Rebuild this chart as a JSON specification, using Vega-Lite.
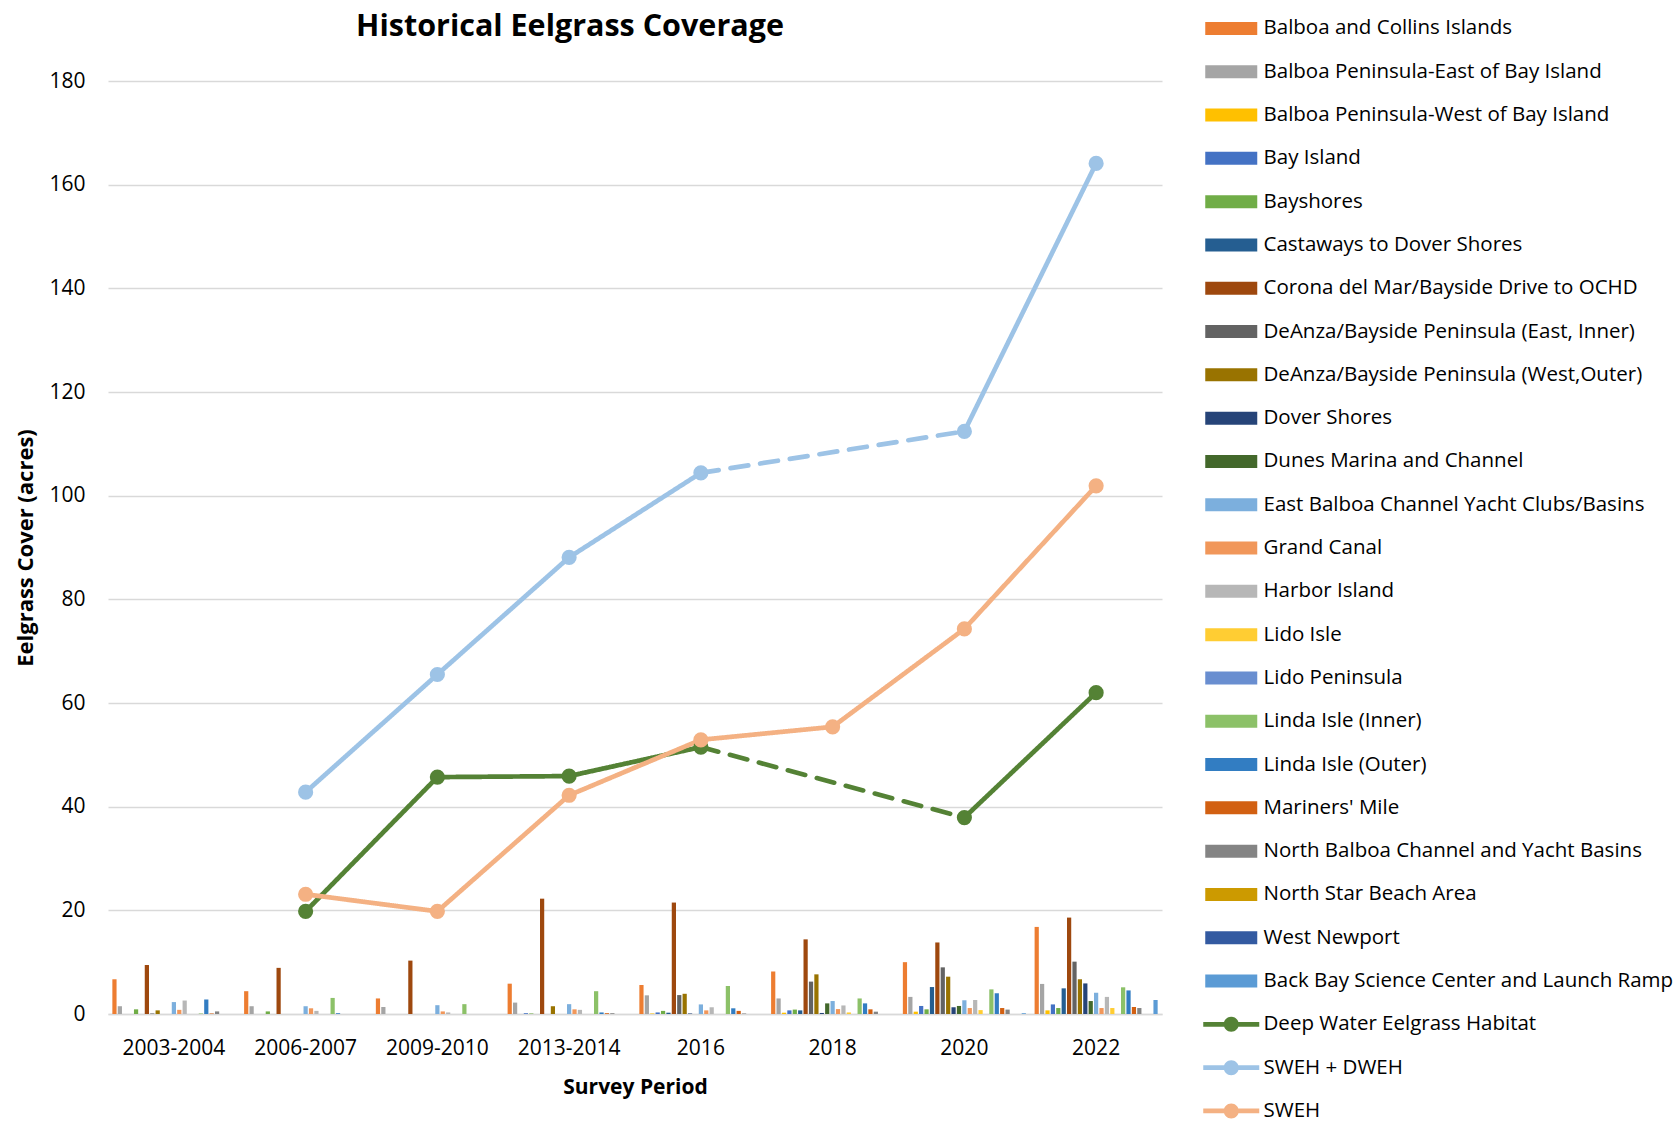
{
  "$schema": "https://vega.github.io/schema/vega-lite/v6.json",
  "width": 1054,
  "height": 933,
  "autosize": {"type": "none"},
  "padding": {"left": 108, "top": 81, "right": 515, "bottom": 108},
  "background": "white",
  "title": {
    "text": "Historical Eelgrass Coverage",
    "font": "Open Sans",
    "fontWeight": "bold",
    "fontSize": 30.5,
    "color": "#000000",
    "anchor": "middle",
    "frame": "group",
    "baseline": "alphabetic",
    "dx": -65,
    "offset": 0,
    "dy": 48
  },
  "datasets": {
    "bars": [
      {"period": "2003-2004", "series": "Balboa and Collins Islands", "value": 6.7},
      {"period": "2003-2004", "series": "Balboa Peninsula-East of Bay Island", "value": 1.5},
      {"period": "2003-2004", "series": "Bayshores", "value": 0.9},
      {"period": "2003-2004", "series": "Corona del Mar/Bayside Drive to OCHD", "value": 9.45},
      {"period": "2003-2004", "series": "DeAnza/Bayside Peninsula (East, Inner)", "value": 0.1},
      {"period": "2003-2004", "series": "DeAnza/Bayside Peninsula (West,Outer)", "value": 0.7},
      {"period": "2003-2004", "series": "East Balboa Channel Yacht Clubs/Basins", "value": 2.3},
      {"period": "2003-2004", "series": "Grand Canal", "value": 0.8},
      {"period": "2003-2004", "series": "Harbor Island", "value": 2.6},
      {"period": "2003-2004", "series": "Linda Isle (Inner)", "value": 0.1},
      {"period": "2003-2004", "series": "Linda Isle (Outer)", "value": 2.8},
      {"period": "2003-2004", "series": "Mariners' Mile", "value": 0.1},
      {"period": "2003-2004", "series": "North Balboa Channel and Yacht Basins", "value": 0.5},

      {"period": "2006-2007", "series": "Balboa and Collins Islands", "value": 4.4},
      {"period": "2006-2007", "series": "Balboa Peninsula-East of Bay Island", "value": 1.5},
      {"period": "2006-2007", "series": "Bayshores", "value": 0.5},
      {"period": "2006-2007", "series": "Corona del Mar/Bayside Drive to OCHD", "value": 8.9},
      {"period": "2006-2007", "series": "East Balboa Channel Yacht Clubs/Basins", "value": 1.5},
      {"period": "2006-2007", "series": "Grand Canal", "value": 1.1},
      {"period": "2006-2007", "series": "Harbor Island", "value": 0.6},
      {"period": "2006-2007", "series": "Linda Isle (Inner)", "value": 3.1},
      {"period": "2006-2007", "series": "Linda Isle (Outer)", "value": 0.15},

      {"period": "2009-2010", "series": "Balboa and Collins Islands", "value": 3.0},
      {"period": "2009-2010", "series": "Balboa Peninsula-East of Bay Island", "value": 1.35},
      {"period": "2009-2010", "series": "Corona del Mar/Bayside Drive to OCHD", "value": 10.3},
      {"period": "2009-2010", "series": "East Balboa Channel Yacht Clubs/Basins", "value": 1.7},
      {"period": "2009-2010", "series": "Grand Canal", "value": 0.5},
      {"period": "2009-2010", "series": "Harbor Island", "value": 0.3},
      {"period": "2009-2010", "series": "Linda Isle (Inner)", "value": 1.9},

      {"period": "2013-2014", "series": "Balboa and Collins Islands", "value": 5.85},
      {"period": "2013-2014", "series": "Balboa Peninsula-East of Bay Island", "value": 2.2},
      {"period": "2013-2014", "series": "Bay Island", "value": 0.15},
      {"period": "2013-2014", "series": "Bayshores", "value": 0.1},
      {"period": "2013-2014", "series": "Corona del Mar/Bayside Drive to OCHD", "value": 22.25},
      {"period": "2013-2014", "series": "DeAnza/Bayside Peninsula (West,Outer)", "value": 1.5},
      {"period": "2013-2014", "series": "East Balboa Channel Yacht Clubs/Basins", "value": 1.9},
      {"period": "2013-2014", "series": "Grand Canal", "value": 0.9},
      {"period": "2013-2014", "series": "Harbor Island", "value": 0.8},
      {"period": "2013-2014", "series": "Linda Isle (Inner)", "value": 4.4},
      {"period": "2013-2014", "series": "Linda Isle (Outer)", "value": 0.3},
      {"period": "2013-2014", "series": "Mariners' Mile", "value": 0.15},
      {"period": "2013-2014", "series": "North Balboa Channel and Yacht Basins", "value": 0.15},

      {"period": "2016", "series": "Balboa and Collins Islands", "value": 5.6},
      {"period": "2016", "series": "Balboa Peninsula-East of Bay Island", "value": 3.6},
      {"period": "2016", "series": "Balboa Peninsula-West of Bay Island", "value": 0.1},
      {"period": "2016", "series": "Bay Island", "value": 0.3},
      {"period": "2016", "series": "Bayshores", "value": 0.6},
      {"period": "2016", "series": "Castaways to Dover Shores", "value": 0.25},
      {"period": "2016", "series": "Corona del Mar/Bayside Drive to OCHD", "value": 21.5},
      {"period": "2016", "series": "DeAnza/Bayside Peninsula (East, Inner)", "value": 3.65},
      {"period": "2016", "series": "DeAnza/Bayside Peninsula (West,Outer)", "value": 3.9},
      {"period": "2016", "series": "Dover Shores", "value": 0.1},
      {"period": "2016", "series": "East Balboa Channel Yacht Clubs/Basins", "value": 1.85},
      {"period": "2016", "series": "Grand Canal", "value": 0.7},
      {"period": "2016", "series": "Harbor Island", "value": 1.3},
      {"period": "2016", "series": "Linda Isle (Inner)", "value": 5.4},
      {"period": "2016", "series": "Linda Isle (Outer)", "value": 1.1},
      {"period": "2016", "series": "Mariners' Mile", "value": 0.6},
      {"period": "2016", "series": "North Balboa Channel and Yacht Basins", "value": 0.1},

      {"period": "2018", "series": "Balboa and Collins Islands", "value": 8.2},
      {"period": "2018", "series": "Balboa Peninsula-East of Bay Island", "value": 3.0},
      {"period": "2018", "series": "Balboa Peninsula-West of Bay Island", "value": 0.25},
      {"period": "2018", "series": "Bay Island", "value": 0.7},
      {"period": "2018", "series": "Bayshores", "value": 0.85},
      {"period": "2018", "series": "Castaways to Dover Shores", "value": 0.7},
      {"period": "2018", "series": "Corona del Mar/Bayside Drive to OCHD", "value": 14.4},
      {"period": "2018", "series": "DeAnza/Bayside Peninsula (East, Inner)", "value": 6.25},
      {"period": "2018", "series": "DeAnza/Bayside Peninsula (West,Outer)", "value": 7.65},
      {"period": "2018", "series": "Dover Shores", "value": 0.2},
      {"period": "2018", "series": "Dunes Marina and Channel", "value": 2.05},
      {"period": "2018", "series": "East Balboa Channel Yacht Clubs/Basins", "value": 2.5},
      {"period": "2018", "series": "Grand Canal", "value": 0.95},
      {"period": "2018", "series": "Harbor Island", "value": 1.65},
      {"period": "2018", "series": "Lido Isle", "value": 0.3},
      {"period": "2018", "series": "Linda Isle (Inner)", "value": 3.0},
      {"period": "2018", "series": "Linda Isle (Outer)", "value": 2.05},
      {"period": "2018", "series": "Mariners' Mile", "value": 0.9},
      {"period": "2018", "series": "North Balboa Channel and Yacht Basins", "value": 0.45},

      {"period": "2020", "series": "Balboa and Collins Islands", "value": 10.0},
      {"period": "2020", "series": "Balboa Peninsula-East of Bay Island", "value": 3.3},
      {"period": "2020", "series": "Balboa Peninsula-West of Bay Island", "value": 0.45},
      {"period": "2020", "series": "Bay Island", "value": 1.55},
      {"period": "2020", "series": "Bayshores", "value": 0.9},
      {"period": "2020", "series": "Castaways to Dover Shores", "value": 5.2},
      {"period": "2020", "series": "Corona del Mar/Bayside Drive to OCHD", "value": 13.8},
      {"period": "2020", "series": "DeAnza/Bayside Peninsula (East, Inner)", "value": 9.0},
      {"period": "2020", "series": "DeAnza/Bayside Peninsula (West,Outer)", "value": 7.2},
      {"period": "2020", "series": "Dover Shores", "value": 1.3},
      {"period": "2020", "series": "Dunes Marina and Channel", "value": 1.55},
      {"period": "2020", "series": "East Balboa Channel Yacht Clubs/Basins", "value": 2.65},
      {"period": "2020", "series": "Grand Canal", "value": 1.15},
      {"period": "2020", "series": "Harbor Island", "value": 2.7},
      {"period": "2020", "series": "Lido Isle", "value": 0.75},
      {"period": "2020", "series": "Linda Isle (Inner)", "value": 4.75},
      {"period": "2020", "series": "Linda Isle (Outer)", "value": 4.0},
      {"period": "2020", "series": "Mariners' Mile", "value": 1.15},
      {"period": "2020", "series": "North Balboa Channel and Yacht Basins", "value": 0.85},
      {"period": "2020", "series": "Back Bay Science Center and Launch Ramp", "value": 0.15},

      {"period": "2022", "series": "Balboa and Collins Islands", "value": 16.8},
      {"period": "2022", "series": "Balboa Peninsula-East of Bay Island", "value": 5.8},
      {"period": "2022", "series": "Balboa Peninsula-West of Bay Island", "value": 0.7},
      {"period": "2022", "series": "Bay Island", "value": 1.85},
      {"period": "2022", "series": "Bayshores", "value": 1.15},
      {"period": "2022", "series": "Castaways to Dover Shores", "value": 4.95},
      {"period": "2022", "series": "Corona del Mar/Bayside Drive to OCHD", "value": 18.6},
      {"period": "2022", "series": "DeAnza/Bayside Peninsula (East, Inner)", "value": 10.1},
      {"period": "2022", "series": "DeAnza/Bayside Peninsula (West,Outer)", "value": 6.7},
      {"period": "2022", "series": "Dover Shores", "value": 5.9},
      {"period": "2022", "series": "Dunes Marina and Channel", "value": 2.5},
      {"period": "2022", "series": "East Balboa Channel Yacht Clubs/Basins", "value": 4.1},
      {"period": "2022", "series": "Grand Canal", "value": 1.15},
      {"period": "2022", "series": "Harbor Island", "value": 3.3},
      {"period": "2022", "series": "Lido Isle", "value": 1.15},
      {"period": "2022", "series": "Linda Isle (Inner)", "value": 5.15},
      {"period": "2022", "series": "Linda Isle (Outer)", "value": 4.55},
      {"period": "2022", "series": "Mariners' Mile", "value": 1.35},
      {"period": "2022", "series": "North Balboa Channel and Yacht Basins", "value": 1.15},
      {"period": "2022", "series": "Back Bay Science Center and Launch Ramp", "value": 2.7}
    ],
    "lines": [
      {"series": "Deep Water Eelgrass Habitat", "period": "2006-2007", "value": 19.8, "seg": "a", "dash": "solid"},
      {"series": "Deep Water Eelgrass Habitat", "period": "2009-2010", "value": 45.7, "seg": "a", "dash": "solid"},
      {"series": "Deep Water Eelgrass Habitat", "period": "2013-2014", "value": 45.9, "seg": "a", "dash": "solid"},
      {"series": "Deep Water Eelgrass Habitat", "period": "2016", "value": 51.5, "seg": "a", "dash": "solid"},
      {"series": "Deep Water Eelgrass Habitat", "period": "2016", "value": 51.5, "seg": "d", "dash": "dashed"},
      {"series": "Deep Water Eelgrass Habitat", "period": "2020", "value": 37.9, "seg": "d", "dash": "dashed"},
      {"series": "Deep Water Eelgrass Habitat", "period": "2020", "value": 37.9, "seg": "b", "dash": "solid"},
      {"series": "Deep Water Eelgrass Habitat", "period": "2022", "value": 62.0, "seg": "b", "dash": "solid"},

      {"series": "SWEH + DWEH", "period": "2006-2007", "value": 42.8, "seg": "a", "dash": "solid"},
      {"series": "SWEH + DWEH", "period": "2009-2010", "value": 65.5, "seg": "a", "dash": "solid"},
      {"series": "SWEH + DWEH", "period": "2013-2014", "value": 88.1, "seg": "a", "dash": "solid"},
      {"series": "SWEH + DWEH", "period": "2016", "value": 104.4, "seg": "a", "dash": "solid"},
      {"series": "SWEH + DWEH", "period": "2016", "value": 104.4, "seg": "d", "dash": "dashed"},
      {"series": "SWEH + DWEH", "period": "2020", "value": 112.4, "seg": "d", "dash": "dashed"},
      {"series": "SWEH + DWEH", "period": "2020", "value": 112.4, "seg": "b", "dash": "solid"},
      {"series": "SWEH + DWEH", "period": "2022", "value": 164.1, "seg": "b", "dash": "solid"},

      {"series": "SWEH", "period": "2006-2007", "value": 23.1, "seg": "a", "dash": "solid"},
      {"series": "SWEH", "period": "2009-2010", "value": 19.8, "seg": "a", "dash": "solid"},
      {"series": "SWEH", "period": "2013-2014", "value": 42.2, "seg": "a", "dash": "solid"},
      {"series": "SWEH", "period": "2016", "value": 52.9, "seg": "a", "dash": "solid"},
      {"series": "SWEH", "period": "2018", "value": 55.4, "seg": "a", "dash": "solid"},
      {"series": "SWEH", "period": "2020", "value": 74.3, "seg": "a", "dash": "solid"},
      {"series": "SWEH", "period": "2022", "value": 101.9, "seg": "a", "dash": "solid"}
    ]
  },
  "encoding": {
    "x": {
      "field": "period",
      "type": "nominal",
      "sort": null,
      "scale": {
        "domain": ["2003-2004", "2006-2007", "2009-2010", "2013-2014", "2016", "2018", "2020", "2022"],
        "paddingInner": 0.057,
        "paddingOuter": 0.0285
      },
      "axis": {
        "title": "Survey Period",
        "labelAngle": 0,
        "ticks": false,
        "labelPadding": 23,
        "titlePadding": 18,
        "domain": true,
        "domainColor": "#D9D9D9",
        "domainWidth": 1.3,
        "grid": false
      }
    },
    "y": {
      "field": "value",
      "type": "quantitative",
      "scale": {"domain": [0, 180], "nice": false, "zero": true},
      "axis": {
        "title": "Eelgrass Cover (acres)",
        "values": [0, 20, 40, 60, 80, 100, 120, 140, 160, 180],
        "ticks": false,
        "domain": false,
        "labelPadding": 23,
        "titlePadding": 11,
        "titleFontSize": 22,
        "grid": true,
        "gridColor": "#D9D9D9",
        "gridWidth": 1.3
      }
    },
    "color": {
      "field": "series",
      "type": "nominal",
      "scale": {
        "domain": [
          "Balboa and Collins Islands",
          "Balboa Peninsula-East of Bay Island",
          "Balboa Peninsula-West of Bay Island",
          "Bay Island",
          "Bayshores",
          "Castaways to Dover Shores",
          "Corona del Mar/Bayside Drive to OCHD",
          "DeAnza/Bayside Peninsula (East, Inner)",
          "DeAnza/Bayside Peninsula (West,Outer)",
          "Dover Shores",
          "Dunes Marina and Channel",
          "East Balboa Channel Yacht Clubs/Basins",
          "Grand Canal",
          "Harbor Island",
          "Lido Isle",
          "Lido Peninsula",
          "Linda Isle (Inner)",
          "Linda Isle (Outer)",
          "Mariners' Mile",
          "North Balboa Channel and Yacht Basins",
          "North Star Beach Area",
          "West Newport",
          "Back Bay Science Center and Launch Ramp",
          "Deep Water Eelgrass Habitat",
          "SWEH + DWEH",
          "SWEH"
        ],
        "range": [
          "#ED7D31", "#A5A5A5", "#FFC000", "#4472C4", "#70AD47", "#255E91",
          "#9E480E", "#636363", "#997300", "#264478", "#43682B", "#7CAFDD",
          "#F1975A", "#B7B7B7", "#FFCD33", "#698ED0", "#8CC168", "#327DC2",
          "#D26012", "#848484", "#CC9A00", "#335AA1", "#5B9BD5",
          "#548235", "#9DC3E6", "#F4B183"
        ]
      },
      "legend": {
        "title": null,
        "orient": "none",
        "legendX": 1113,
        "legendY": -62.8,
        "direction": "vertical",
        "columns": 1,
        "padding": 0,
        "symbolSize": 400,
        "symbolStrokeWidth": 0,
        "symbolOffset": 0,
        "labelOffset": 22,
        "rowPadding": 22.3,
        "labelFont": "Open Sans",
        "labelFontSize": 20.5,
        "labelColor": "#000000",
        "labelLimit": 1000,
        "symbolLimit": 50,
        "encode": {
          "symbols": {
            "update": {
              "shape": [
                {"test": "indexof(['Deep Water Eelgrass Habitat','SWEH + DWEH','SWEH'], datum.value) >= 0", "value": "M-2.8,-0.235H2.8V0.235H-2.8Z M-0.75,0A0.75,0.75 0 1,1 0.75,0A0.75,0.75 0 1,1 -0.75,0Z"},
                {"value": "M-2.6,-0.65H2.6V0.65H-2.6Z"}
              ],
              "fill": {"scale": "color", "field": "value"},
              "stroke": {"value": "transparent"},
              "strokeWidth": {"value": 0},
              "opacity": {"value": 1},
              "fillOpacity": {"value": 1}
            }
          }
        }
      }
    }
  },
  "layer": [
    {
      "data": {"name": "bars"},
      "mark": {"type": "bar"},
      "encoding": {
        "xOffset": {
          "field": "series",
          "type": "nominal",
          "scale": {
            "domain": [
              "Balboa and Collins Islands",
              "Balboa Peninsula-East of Bay Island",
              "Balboa Peninsula-West of Bay Island",
              "Bay Island",
              "Bayshores",
              "Castaways to Dover Shores",
              "Corona del Mar/Bayside Drive to OCHD",
              "DeAnza/Bayside Peninsula (East, Inner)",
              "DeAnza/Bayside Peninsula (West,Outer)",
              "Dover Shores",
              "Dunes Marina and Channel",
              "East Balboa Channel Yacht Clubs/Basins",
              "Grand Canal",
              "Harbor Island",
              "Lido Isle",
              "Lido Peninsula",
              "Linda Isle (Inner)",
              "Linda Isle (Outer)",
              "Mariners' Mile",
              "North Balboa Channel and Yacht Basins",
              "North Star Beach Area",
              "West Newport",
              "Back Bay Science Center and Launch Ramp"
            ],
            "paddingInner": 0.22,
            "paddingOuter": 0.11
          }
        }
      }
    },
    {
      "data": {"name": "lines"},
      "mark": {"type": "line", "strokeWidth": 4.7, "strokeCap": "round", "strokeJoin": "round"},
      "encoding": {
        "detail": {"field": "seg", "type": "nominal"},
        "strokeDash": {
          "field": "dash",
          "type": "nominal",
          "scale": {"domain": ["solid", "dashed"], "range": [[1, 0], [18, 12]]},
          "legend": null
        }
      }
    },
    {
      "data": {"name": "lines"},
      "transform": [{"filter": "datum.dash == 'solid'"}],
      "mark": {"type": "point", "filled": true, "size": 230, "opacity": 1, "shape": "circle"}
    }
  ],
  "config": {
    "view": {"stroke": null},
    "font": "Open Sans",
    "axis": {
      "labelFont": "Open Sans",
      "labelFontSize": 21,
      "labelColor": "#000000",
      "titleFont": "Open Sans",
      "titleFontSize": 21,
      "titleFontWeight": "bold",
      "titleColor": "#000000"
    }
  }
}
